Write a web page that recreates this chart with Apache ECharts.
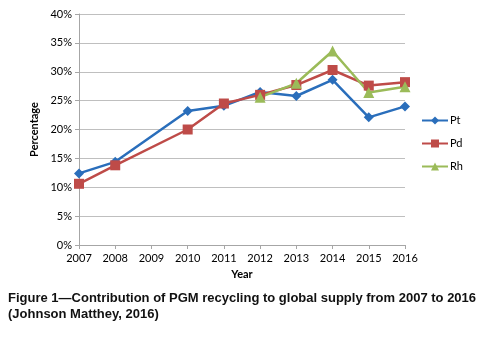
<!DOCTYPE html>
<html>
<head>
<meta charset="utf-8">
<script src="https://cdn.jsdelivr.net/npm/echarts@6/dist/echarts.min.js"></script>
<style>
  html, body { margin: 0; padding: 0; background: #fff; }
  #chart { width: 485px; height: 343px; }
</style>
</head>
<body>
<div id="chart"></div>
<script>
  // data
  var years = ['2007', '2008', '2009', '2010', '2011', '2012', '2013', '2014', '2015', '2016'];
  var pt = [12.4, 14.4, null, 23.2, 24.1, 26.5, 25.8, 28.6, 22.1, 24.0];
  var pd = [10.6, 13.8, null, 20.0, 24.5, 26.0, 27.7, 30.3, 27.6, 28.2];
  var rh = [null, null, null, null, null, 25.6, 28.0, 33.6, 26.4, 27.4];
  var yTicks = [0, 5, 10, 15, 20, 25, 30, 35, 40];

  var labelFont = 'Lato';

  function line(name, data, color, symbol, size) {
    return {
      name: name,
      type: 'line',
      data: data,
      connectNulls: true,
      symbol: symbol,
      symbolSize: size,
      lineStyle: { color: color, width: 2.5 },
      itemStyle: { color: color },
      z: 3
    };
  }

  var option = {
    animation: false,
    backgroundColor: '#fff',
    grid: { left: 79, right: 80, top: 14, bottom: 98 },
    legend: {
      orient: 'vertical',
      left: 416,
      top: 110,
      itemGap: 12,
      itemWidth: 26,
      itemHeight: 10,
      textStyle: { fontFamily: labelFont, fontSize: 11, color: '#000', padding: [0, 0, 0, -3] },
      data: ['Pt', 'Pd', 'Rh']
    },
    xAxis: {
      type: 'category',
      data: years,
      boundaryGap: false,
      name: 'Year',
      nameLocation: 'middle',
      nameGap: 24,
      nameTextStyle: { fontFamily: labelFont, fontSize: 11, fontWeight: 'bold', color: '#000' },
      axisLine: { lineStyle: { color: '#a6a6a6' } },
      axisTick: { show: true, length: 4, lineStyle: { color: '#a6a6a6' } },
      axisLabel: { fontFamily: labelFont, fontSize: 11, color: '#000', margin: 8 },
      splitLine: { show: false }
    },
    yAxis: {
      type: 'value',
      min: yTicks[0],
      max: yTicks[yTicks.length - 1],
      interval: 5,
      name: 'Percentage',
      nameLocation: 'middle',
      nameGap: 38,
      nameTextStyle: { fontFamily: labelFont, fontSize: 11, fontWeight: 'bold', color: '#000' },
      axisLine: { show: true, lineStyle: { color: '#a6a6a6' } },
      axisTick: { show: true, length: 4, lineStyle: { color: '#a6a6a6' } },
      axisLabel: { fontFamily: labelFont, fontSize: 11, color: '#000', margin: 7,
        formatter: function(v) { return v + '%'; } },
      splitLine: { lineStyle: { color: '#bfbfbf', width: 1 } }
    },
    graphic: [{
      type: 'text',
      left: 8,
      top: 290,
      style: {
        text: 'Figure 1\u2014Contribution of PGM recycling to global supply from 2007 to 2016\n(Johnson Matthey, 2016)',
        font: 'bold 13px "Liberation Sans"',
        lineHeight: 16,
        fill: '#111'
      }
    }],
    series: [
      line('Pt', pt, '#2a6ebb', 'diamond', 10),
      line('Pd', pd, '#be4b48', 'rect', 10),
      line('Rh', rh, '#9bbb59', 'triangle', 11)
    ]
  };

  echarts.init(document.getElementById('chart')).setOption(option);
</script>
</body>
</html>
